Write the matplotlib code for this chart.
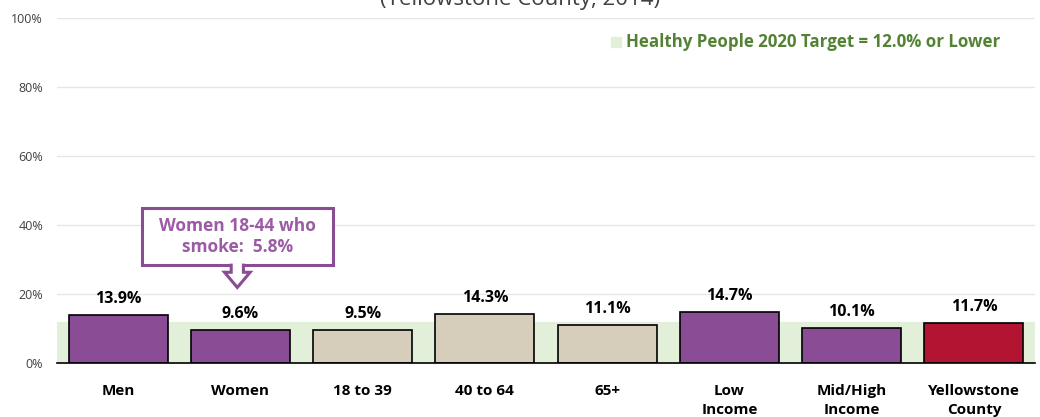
import matplotlib.pyplot as plt
from matplotlib.patches import Rectangle, Polygon

categories = ["Men", "Women", "18 to 39", "40 to 64", "65+", "Low\nIncome", "Mid/High\nIncome", "Yellowstone\nCounty"]
values = [13.9, 9.6, 9.5, 14.3, 11.1, 14.7, 10.1, 11.7]
colors = ["#8B4C96", "#8B4C96", "#D6CEBB", "#D6CEBB", "#D6CEBB", "#8B4C96", "#8B4C96", "#B21432"]
target = 12.0
yticks = [0, 20, 40, 60, 80, 100]

plt.rcParams['font.family'] = ['Open Sans', 'DejaVu Sans']

fig = plt.figure(figsize=(10.4, 4.17), dpi=100)
ax = fig.add_axes([57 / 1040, 1 - 363 / 417, 978 / 1040, 345 / 417])

x = list(range(len(categories)))
ax.set_xlim(-0.5, len(categories) - 0.5)
ax.set_ylim(0, 100)

# target band
ax.axhspan(0, target, color="#E2F0D9", zorder=1)
ax.bar(x, values, width=0.81, color=colors, edgecolor="black", linewidth=1.2, zorder=3)

for xi, v in zip(x, values):
    ax.text(xi, v + 2.3, f"{v}%", ha="center", va="bottom", fontsize=11.5,
            fontweight="bold", color="black", zorder=4)

ax.set_yticks(yticks)
ax.set_yticklabels([f"{t}%" for t in yticks], fontsize=9, color="#404040")
ax.yaxis.grid(True, color="#E6E6E6", linewidth=1, zorder=0)
ax.set_axisbelow(True)
ax.tick_params(axis="y", length=0, pad=10)
ax.tick_params(axis="x", length=0, pad=15)
ax.set_xticks(x)
ax.set_xticklabels(categories, fontsize=11, fontweight="bold", linespacing=1.45, va="top")
for s in ["top", "right", "left"]:
    ax.spines[s].set_visible(False)
ax.spines["bottom"].set_color("black")
ax.spines["bottom"].set_linewidth(1.2)
ax.spines["bottom"].set_zorder(5)

# title (cut off at the top)
fig.text(0.5, 1.0, "(Yellowstone County, 2014)", ha="center", va="center",
         fontsize=16, color="#404040")

# legend for target band
fig.patches.append(Rectangle((611 / 1040, 1 - 47 / 417), 10 / 1040, 10 / 417,
                             transform=fig.transFigure, color="#E2F0D9"))
fig.text(626 / 1040, 1 - 42 / 417, "Healthy People 2020 Target = 12.0% or Lower",
         ha="left", va="center", fontsize=12.2, fontweight="bold", color="#548235")

# callout for women 18-44
purple = "#8B4C96"
bx0, bx1, by0, by1 = 0.197, 1.754, 28.4, 44.9
ax.add_patch(Rectangle((bx0, by0), bx1 - bx0, by1 - by0, fc="white", ec=purple,
                       lw=2.2, zorder=6))
cx, tw, hw = 0.975, 0.05, 0.105
ax.add_patch(Polygon([(cx - tw, by0 + 0.4), (cx - tw, 26.3), (cx - hw, 26.3), (cx, 21.9),
                      (cx + hw, 26.3), (cx + tw, 26.3), (cx + tw, by0 + 0.4)],
                     closed=False, fc="white", ec=purple, lw=2.2, zorder=7))
ax.text((bx0 + bx1) / 2, (by0 + by1) / 2, "Women 18-44 who\nsmoke:  5.8%", ha="center",
        va="center", fontsize=12.5, fontweight="bold", color="#9B5BA5",
        linespacing=1.2, zorder=8)

fig.savefig("out.png", dpi=100)
